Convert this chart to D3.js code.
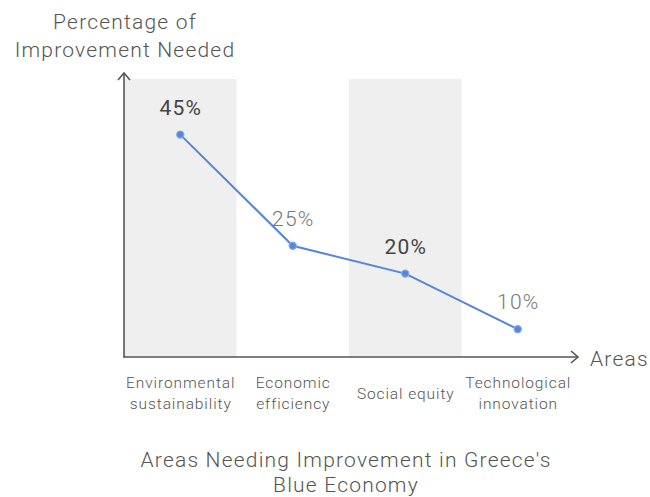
<!DOCTYPE html>
<html>
<head>
<meta charset="utf-8">
<script src="https://cdn.jsdelivr.net/npm/d3@7"></script>
<style>
  html, body { margin: 0; padding: 0; background: #fff; }
  svg { display: block; font-family: Roboto, "Noto Sans", sans-serif; }
</style>
</head>
<body>
<svg id="chart" width="650" height="497"></svg>
<script>
// Areas and the share of improvement needed in each
const categories = [
  ["Environmental", "sustainability"],
  ["Economic", "efficiency"],
  ["Social equity"],
  ["Technological", "innovation"]
];
const values = [45, 25, 20, 10];
const valueLabels = ["45%", "25%", "20%", "10%"];
const yDomain = [5, 55];

(function () {
const svg = d3.select("#chart");
const plotLeft = 124, plotRight = 574, plotTop = 79, plotBottom = 357;
const bigFont = 21, bigSpacing = 1.2;

const x = d3.scaleBand().domain(d3.range(categories.length)).range([plotLeft, plotRight]).padding(0);
const y = d3.scaleLinear().domain(yDomain).range([plotBottom, plotTop]);

// alternating shaded columns
svg.append("g").selectAll("rect")
  .data(d3.range(categories.length).filter(i => i % 2 === 0))
  .join("rect")
  .attr("x", i => x(i))
  .attr("y", y(yDomain[1]))
  .attr("width", x.bandwidth())
  .attr("height", y(yDomain[0]) - y(yDomain[1]))
  .attr("fill", "#efefef");

// axes with arrowheads
const axisColor = "#555";
svg.append("line").attr("x1", plotLeft).attr("x2", plotLeft).attr("y1", plotBottom + 0.5).attr("y2", 73)
  .attr("stroke", axisColor).attr("stroke-width", 1.6);
svg.append("path").attr("d", `M${plotLeft - 6},80 L${plotLeft},73 L${plotLeft + 6},80`)
  .attr("fill", "none").attr("stroke", axisColor).attr("stroke-width", 1.6);
svg.append("line").attr("x1", plotLeft - 0.5).attr("x2", 578).attr("y1", plotBottom).attr("y2", plotBottom)
  .attr("stroke", axisColor).attr("stroke-width", 1.6);
svg.append("path").attr("d", `M571,${plotBottom - 6} L578,${plotBottom} L571,${plotBottom + 6}`)
  .attr("fill", "none").attr("stroke", axisColor).attr("stroke-width", 1.6);

function bigText(xp, yp, anchor, txt) {
  return svg.append("text").attr("x", xp).attr("y", yp).attr("text-anchor", anchor)
    .attr("font-size", bigFont).attr("font-weight", 300).attr("letter-spacing", bigSpacing)
    .attr("fill", "#555").text(txt);
}

// axis titles
bigText(125, 29, "middle", "Percentage of");
bigText(125, 57, "middle", "Improvement Needed");
bigText(590, 366, "start", "Areas");

// category labels
const catG = svg.append("g").selectAll("text").data(categories).join("text")
  .attr("text-anchor", "middle")
  .attr("font-size", 15.5).attr("font-weight", 300).attr("letter-spacing", 0.9).attr("fill", "#555")
  .attr("x", (d, i) => x(i) + x.bandwidth() / 2 + 0.5)
  .attr("y", d => d.length === 1 ? 399 : 388);
catG.selectAll("tspan").data(d => d).join("tspan")
  .attr("x", function () { return d3.select(this.parentNode).attr("x"); })
  .attr("dy", (d, j) => j === 0 ? 0 : 21)
  .text(d => d);

// line
const cx = i => x(i) + x.bandwidth() / 2;
const line = d3.line().x((d, i) => cx(i)).y(d => y(d));
svg.append("path").datum(values).attr("d", line)
  .attr("fill", "none").attr("stroke", "#5585dc").attr("stroke-width", 2);

svg.append("g").selectAll("circle").data(values).join("circle")
  .attr("cx", (d, i) => cx(i)).attr("cy", d => y(d)).attr("r", 3.6)
  .attr("fill", "#5585dc").attr("stroke", "#8aa9e6").attr("stroke-width", 1.2);

// value labels (darker on shaded columns)
svg.append("g").selectAll("text").data(values).join("text")
  .attr("x", (d, i) => cx(i) + 0.5).attr("y", d => y(d) - 20)
  .attr("text-anchor", "middle").attr("font-size", bigFont)
  .attr("letter-spacing", 1.2)
  .attr("font-weight", (d, i) => i % 2 === 0 ? 400 : 300)
  .attr("fill", (d, i) => i % 2 === 0 ? "#444" : "#777")
  .text((d, i) => valueLabels[i]);

// chart title
bigText(346, 467, "middle", "Areas Needing Improvement in Greece's");
bigText(346, 492, "middle", "Blue Economy");
})();
</script>
</body>
</html>
